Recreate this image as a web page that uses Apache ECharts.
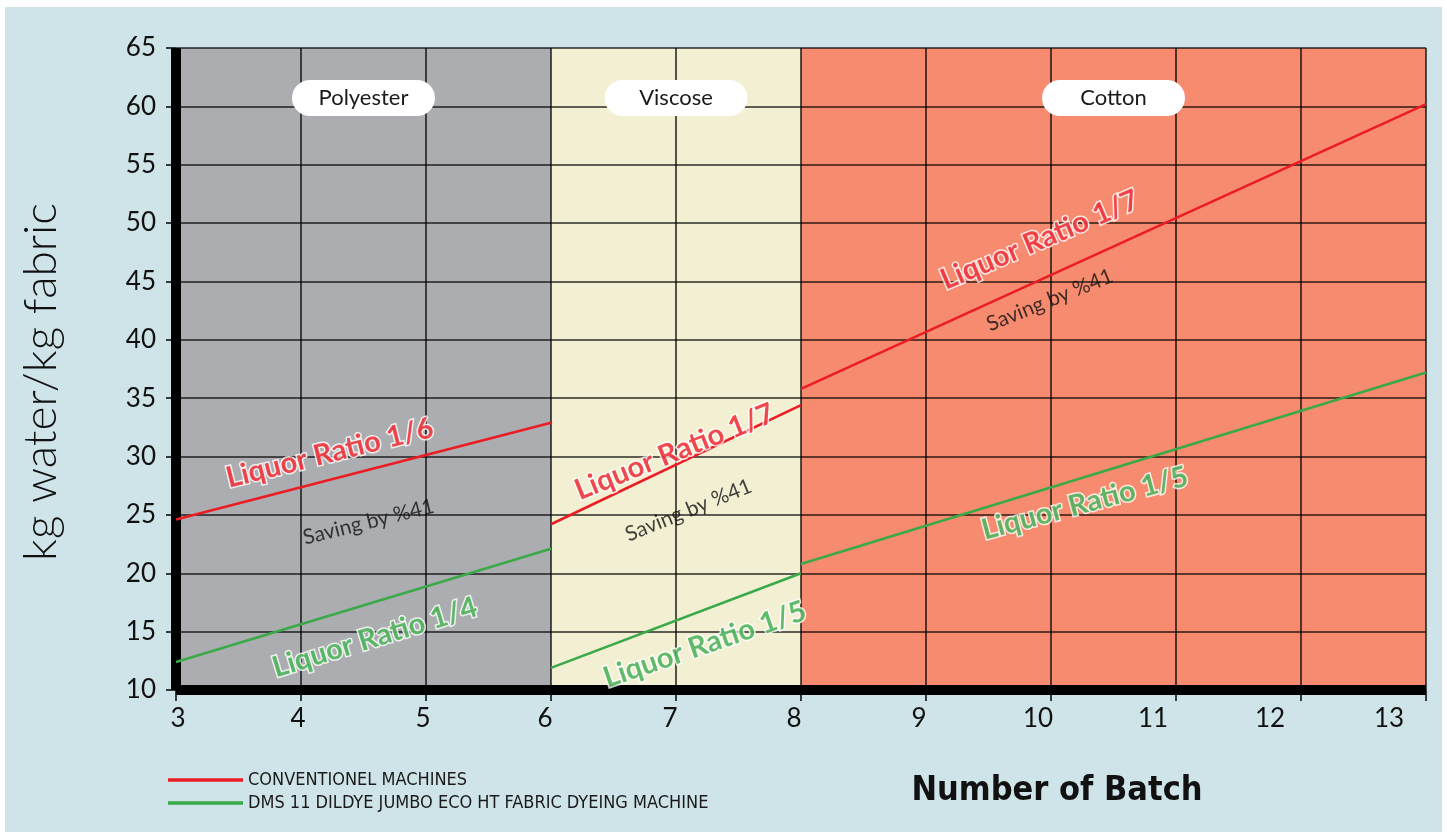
<!DOCTYPE html>
<html><head><meta charset="utf-8">
<script src="https://cdn.jsdelivr.net/npm/echarts@6/dist/echarts.min.js"></script>
<style>
html,body{margin:0;padding:0;background:#fff;}
#bg{position:absolute;left:5px;top:7px;width:1437px;height:825px;background:#cfe4e8;}
#c{position:absolute;left:0;top:0;width:1447px;height:835px;}
</style></head><body><div id="bg"></div><div id="c"></div>
<script>
// ---------- DATA ----------
const regionNames = ['Polyester', 'Viscose', 'Cotton'];
const regionStart = [3, 6, 8];
const regionEnd = [6, 8, 13];

const seriesNames = ['CONVENTIONEL MACHINES', 'DMS 11 DILDYE JUMBO ECO HT FABRIC DYEING MACHINE'];
const conventional1 = [[3, 24.6], [6, 32.9]];
const conventional2 = [[6, 24.2], [8, 34.4]];
const conventional3 = [[8, 35.8], [13, 60.2]];
const dms1 = [[3, 12.4], [6, 22.1]];
const dms2 = [[6, 11.9], [8, 20.0]];
const dms3 = [[8, 20.8], [13, 37.2]];

const xTickLabels = ['3', '4', '5', '6', '7', '8', '9', '10', '11', '12', '13'];
const yTickLabels = ['10', '15', '20', '25', '30', '35', '40', '45', '50', '55', '60', '65'];

const noteText = ['Liquor Ratio 1/6', 'Saving by %41', 'Liquor Ratio 1/4',
                  'Liquor Ratio 1/7', 'Saving by %41', 'Liquor Ratio 1/5',
                  'Liquor Ratio 1/7', 'Saving by %41', 'Liquor Ratio 1/5'];
const noteX = [4.23, 4.54, 4.59, 6.99, 7.10, 7.23, 9.91, 9.99, 10.27];
const noteY = [30.3, 24.4, 14.5, 30.4, 25.4, 13.9, 48.55, 43.4, 26.0];
const noteKind = ['conv', 'save', 'dms', 'conv', 'save', 'dms', 'conv', 'save', 'dms'];

// ---------- STYLE ----------
const RED = '#ec1c24', GREEN = '#3aaa49';
const regionColors = ['#acadb1', '#f2efd2', '#f68b6f'];
const noteRotate = [14, 14, 17, 22, 22, 19, 23, 22, 15];
const xLabelShift = [2, -3, -3, -6, -6, -7, -7, -13, -23, -31, -37];
const FONT = 'Lato, "Open Sans", sans-serif';
const NARROW = '"Liberation Sans Narrow", "DejaVu Sans Condensed", sans-serif';

const noteStyle = {
  conv: { color: RED, fontSize: 29, fontWeight: 'bold', textBorderColor: '#fff', textBorderWidth: 3 },
  dms: { color: GREEN, fontSize: 29, fontWeight: 'bold', textBorderColor: '#fff', textBorderWidth: 3 },
  save: { color: '#111', fontSize: 21 }
};

const xRich = {};
xTickLabels.forEach((t, i) => {
  const s = xLabelShift[i];
  xRich['x' + i] = { fontSize: 26, fontFamily: FONT, color: '#111',
    padding: s < 0 ? [0, -2 * s, 0, 0] : [0, 0, 0, 2 * s] };
});

function lineSeries(name, data, color, extra) {
  return Object.assign({
    type: 'line', name: name, data: data, z: 3, silent: true,
    symbol: 'none', showSymbol: false,
    lineStyle: { color: color, width: 2.5 }, itemStyle: { color: color }
  }, extra || {});
}

const fillArea = {
  silent: true, z: 1,
  label: { show: false },
  data: regionNames.map((n, i) => [
    { xAxis: regionStart[i], itemStyle: { color: regionColors[i], opacity: 1 } },
    { xAxis: regionEnd[i] }
  ])
};
const labelArea = {
  silent: true, z: 4,
  itemStyle: { color: 'rgba(0,0,0,0)' },
  label: {
    show: true, position: 'insideTop', distance: 32,
    backgroundColor: '#fff', borderRadius: 18, width: 143, height: 24, lineHeight: 24,
    padding: [6, 0], align: 'center', fontSize: 22, fontFamily: FONT, color: '#1a1a1a'
  },
  data: regionNames.map((n, i) => [
    { name: n, xAxis: regionStart[i] }, { xAxis: regionEnd[i] }
  ])
};

const chart = echarts.init(document.getElementById('c'), null, { renderer: 'canvas' });
chart.setOption({
  animation: false,
  backgroundColor: 'transparent',
  textStyle: { fontFamily: FONT },
  grid: { left: 176, top: 48, width: 1250, height: 642, containLabel: false },
  legend: {
    left: 163, top: 766, orient: 'vertical', icon: 'rect',
    itemWidth: 75, itemHeight: 3.5, itemGap: 5, selectedMode: false,
    data: seriesNames,
    textStyle: { fontFamily: NARROW, fontSize: 18, color: '#1a1a1a', lineHeight: 18 }
  },
  xAxis: {
    type: 'value', min: 3, max: 13, interval: 1, z: 2,
    name: 'Number of Batch', nameLocation: 'middle', nameGap: 84,
    nameTextStyle: { fontFamily: NARROW, fontWeight: 'bold', fontSize: 34, color: '#111', padding: [0, 0, 0, 512] },
    axisLine: { show: true, onZero: false, lineStyle: { color: '#000', width: 10, cap: 'butt' } },
    axisTick: { show: true, length: 11, lineStyle: { color: '#000', width: 1.5 } },
    axisLabel: {
      margin: 16,
      formatter: (v) => { const i = xTickLabels.indexOf(String(v)); return '{x' + i + '|' + xTickLabels[i] + '}'; },
      rich: xRich
    },
    splitLine: { show: true, showMinLine: true, showMaxLine: true, lineStyle: { color: 'rgba(0,0,0,0.82)', width: 1.6 } }
  },
  yAxis: {
    type: 'value', min: 10, max: 65, interval: 5, z: 2,
    name: 'kg water/kg fabric', nameLocation: 'middle', nameGap: 112,
    nameTextStyle: { fontSize: 46, fontWeight: 300, color: '#111', fontFamily: FONT, padding: [0, 26, 0, 0] },
    axisLine: { show: true, onZero: false, lineStyle: { color: '#000', width: 10, cap: 'butt' } },
    axisTick: { show: true, length: 10, lineStyle: { color: '#000', width: 1.5 } },
    axisLabel: { margin: 20, fontSize: 26, color: '#111', fontFamily: FONT,
      formatter: (v) => yTickLabels[yTickLabels.indexOf(String(v))] },
    splitLine: { show: true, showMinLine: true, showMaxLine: true, lineStyle: { color: 'rgba(0,0,0,0.82)', width: 1.6 } }
  },
  series: [
    lineSeries(seriesNames[0], conventional1, RED, { markArea: fillArea }),
    lineSeries(seriesNames[0], conventional2, RED),
    lineSeries(seriesNames[0], conventional3, RED),
    lineSeries(seriesNames[1], dms1, GREEN, { markArea: labelArea }),
    lineSeries(seriesNames[1], dms2, GREEN),
    lineSeries(seriesNames[1], dms3, GREEN),
    {
      type: 'scatter', name: 'notes', z: 5, silent: true, symbolSize: 0,
      data: noteText.map((t, i) => ({
        name: t, value: [noteX[i], noteY[i]],
        label: Object.assign({ rotate: noteRotate[i] }, noteStyle[noteKind[i]])
      })),
      label: { show: true, position: 'inside', formatter: '{b}', fontFamily: FONT, align: 'center', verticalAlign: 'middle' }
    }
  ]
});
</script></body></html>
